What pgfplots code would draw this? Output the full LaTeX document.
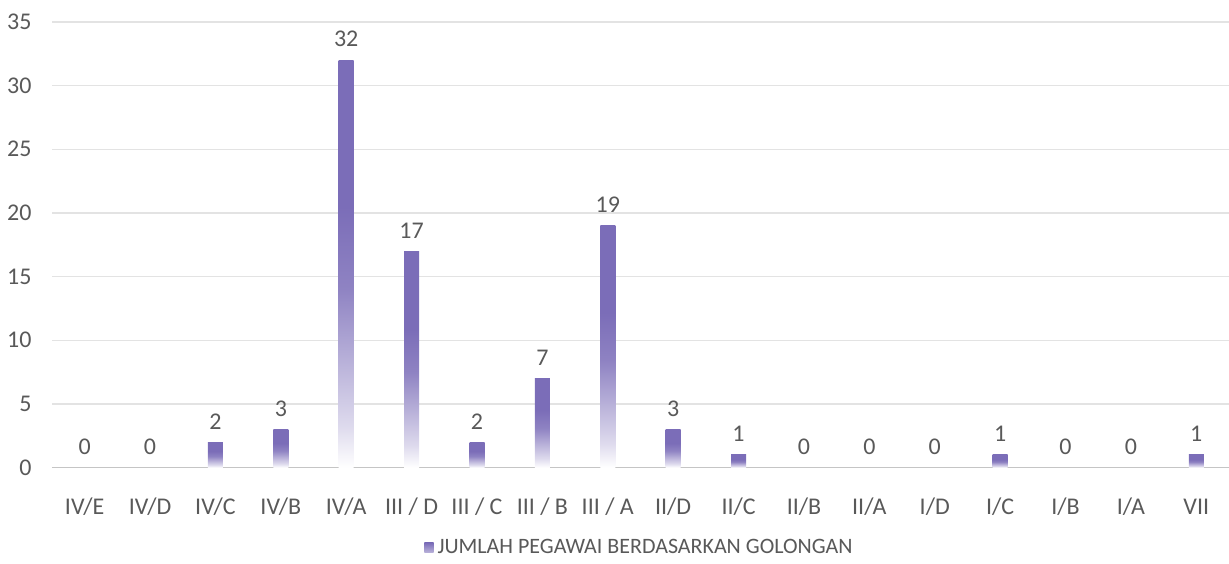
\documentclass[border=0pt]{standalone}
\usepackage{pgfplots}
\pgfplotsset{compat=1.18}
\usepackage{fontspec}
\setmainfont{Carlito}
\definecolor{barpurple}{HTML}{7B6DB8}
\definecolor{txtgray}{HTML}{595959}
\definecolor{gridgray}{HTML}{E3E3E3}

% fade from solid purple at the top to white at the bottom of each bar
\pgfdeclareverticalshading{barfade}{100bp}{
    color(0bp)=(white); color(25bp)=(white); color(30bp)=(barpurple!25);
    color(47bp)=(barpurple!85); color(57bp)=(barpurple); color(100bp)=(barpurple)}

\pgfplotsset{
    onebar/.style={ybar, bar shift=0pt, draw=none, shading=barfade, forget plot},
}

\begin{document}
\begin{tikzpicture}
    \begin{axis}[
        name=ax,
        scale only axis,
        width=589pt,
        height=223pt,
        ymin=0, ymax=35,
        ytick={0,5,...,35},
        xmin=-0.5, xmax=17.5,
        xtick={0,...,17},
        xticklabels={IV/E, IV/D, IV/C, IV/B, IV/A, III / D, III / C, III / B, III / A, II/D, II/C, II/B, II/A, I/D, I/C, I/B, I/A, VII},
        axis line style={draw=none},
        major tick length=0pt,
        ymajorgrids=true,
        grid style={gridgray, line width=0.6pt},
        ticklabel style={font=\fontsize{12}{14}\selectfont, text=txtgray},
        /pgf/number format/assume math mode=true,
        yticklabel style={anchor=east, xshift=-6.7pt},
        xticklabel style={anchor=center, yshift=-19.5pt},
        bar width=7.5pt,
        nodes near coords,
        every node near coord/.append style={font=\fontsize{12}{14}\selectfont, text=txtgray, yshift=3pt},
        legend style={
            at={(0.5,0)}, anchor=center, yshift=-40pt, draw=none,
            font=\fontsize{11}{13}\selectfont, text=txtgray,
            legend cell align=left,
        },
        clip=false,
    ]
        \draw[gridgray!70!gray, line width=0.6pt] (axis cs:-0.5,0) -- (axis cs:17.5,0);
        \addplot[onebar] coordinates {(0,0)};
        \addplot[onebar] coordinates {(1,0)};
        \addplot[onebar] coordinates {(2,2)};
        \addplot[onebar] coordinates {(3,3)};
        \addplot[onebar] coordinates {(4,32)};
        \addplot[onebar] coordinates {(5,17)};
        \addplot[onebar] coordinates {(6,2)};
        \addplot[onebar] coordinates {(7,7)};
        \addplot[onebar] coordinates {(8,19)};
        \addplot[onebar] coordinates {(9,3)};
        \addplot[onebar] coordinates {(10,1)};
        \addplot[onebar] coordinates {(11,0)};
        \addplot[onebar] coordinates {(12,0)};
        \addplot[onebar] coordinates {(13,0)};
        \addplot[onebar] coordinates {(14,1)};
        \addplot[onebar] coordinates {(15,0)};
        \addplot[onebar] coordinates {(16,0)};
        \addplot[onebar] coordinates {(17,1)};
        \addlegendimage{legend image code/.code={
            \shade[draw=none, top color=barpurple, bottom color=barpurple!55] (0.08cm,-0.08cm) rectangle (0.24cm,0.08cm);
        }}
        \addlegendentry{JUMLAH PEGAWAI BERDASARKAN GOLONGAN}
    \end{axis}
    \pgfresetboundingbox
    \path ([shift={(-26pt,-48pt)}]ax.south west) rectangle ([shift={(0pt,11pt)}]ax.north east);
\end{tikzpicture}
\end{document}
